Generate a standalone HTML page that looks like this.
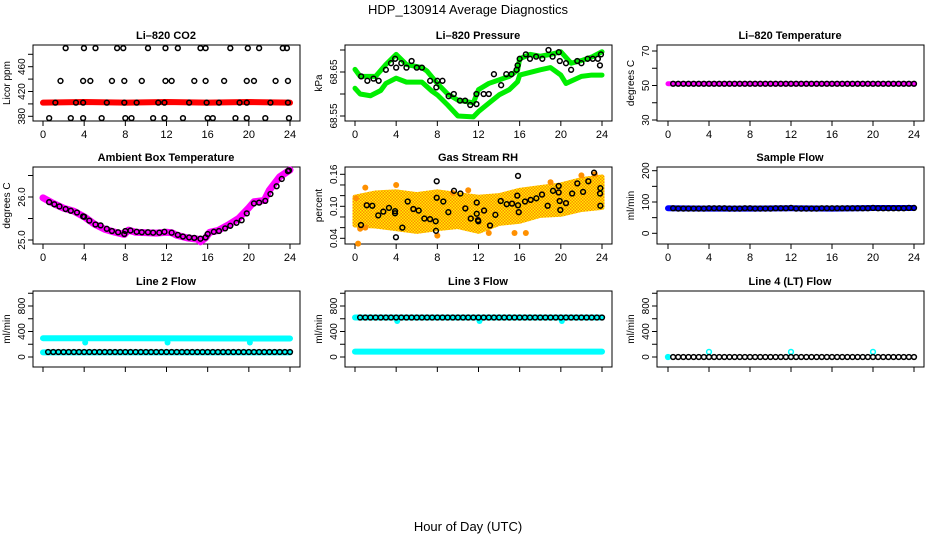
<!DOCTYPE html>
<html><head><meta charset="utf-8"><style>
html,body{margin:0;padding:0;background:#fff;}
svg{display:block;font-family:"Liberation Sans",sans-serif;}
</style></head><body>
<svg id="chart" width="936" height="540" viewBox="0 0 936 540" xmlns="http://www.w3.org/2000/svg">
<defs>
<pattern id="rhp" width="3" height="3" patternUnits="userSpaceOnUse">
<rect width="3" height="3" fill="#ff8c00"/><rect x="0" y="0" width="1.5" height="1.5" fill="#ffee00"/><rect x="1.5" y="1.5" width="1.5" height="1.5" fill="#ffee00"/>
</pattern>
</defs>
<text x="468" y="14" font-size="13" text-anchor="middle">HDP_130914  Average Diagnostics</text>
<text x="468" y="531" font-size="13" text-anchor="middle">Hour of Day (UTC)</text>
</svg>
<script>
// ---------- data ----------
const xTicks=[0,4,8,12,16,20,24];
const H48=[0.5,1,1.5,2,2.5,3,3.5,4,4.5,5,5.5,6,6.5,7,7.5,8,8.5,9,9.5,10,10.5,11,11.5,12,12.5,13,13.5,14,14.5,15,15.5,16,16.5,17,17.5,18,18.5,19,19.5,20,20.5,21,21.5,22,22.5,23,23.5,24];

// Li-820 CO2
const co2RedHours=[0,4,8,12,16,20,24];
const co2RedValues=[402,403,402,403,402,403,402];
const co2BlackHours=[2.2,3.98,5.1,7.2,7.8,10.2,11.9,13.1,15.3,15.8,18.2,19.9,21.0,23.3,23.7,
1.7,3.9,4.6,6.7,7.9,9.6,11.9,12.5,14.7,15.8,17.6,19.8,20.5,22.6,23.8,
1.2,3.2,3.9,6.2,7.9,9.1,11.2,11.8,14.2,15.9,17.1,19.1,19.8,22.1,23.8,
0.6,2.7,3.9,5.7,8.0,8.6,10.7,11.8,13.6,16.0,16.5,18.7,19.8,21.6,23.9];
const co2BlackValues=[490,490,490,490,490,490,490,490,490,490,490,490,490,490,490,
437,437,437,437,437,437,437,437,437,437,437,437,437,437,437,
402,402,402,402,402,402,402,402,402,402,402,402,402,402,402,
377,377,377,377,377,377,377,377,377,377,377,377,377,377,377];

// Li-820 Pressure
const presUpHours=[0,0.5,2,3,4,5,6.5,7,8,9,10,11.5,12,13,14,15,15.8,16,17,18,19,20,21,22,23,24];
const presUpValues=[68.656,68.64,68.64,68.667,68.69,68.667,68.66,68.652,68.624,68.60,68.586,68.58,68.61,68.624,68.632,68.64,68.654,68.68,68.69,68.686,68.69,68.696,68.67,68.676,68.684,68.696];
const presLowHours=[0,0.5,1.5,2.5,3,4,5,6.5,7.5,8,9,10,11.5,12,13,14,15,15.8,16,18,19,20,20.5,22,23,24];
const presLowValues=[68.613,68.60,68.596,68.608,68.624,68.636,68.627,68.627,68.606,68.598,68.575,68.55,68.548,68.56,68.579,68.598,68.61,68.628,68.643,68.655,68.66,68.643,68.624,68.64,68.643,68.643];
const presBlackHours=[0.6,1.2,1.8,2.3,3,3.5,3.9,4,4.5,5,5.5,6,6.5,7.3,7.9,8,8.5,9.1,9.6,10.2,10.7,11.2,11.8,11.8,12.5,13,13.5,14.2,14.7,15.2,15.7,15.8,16,16.6,17,17.6,18.2,18.8,19.2,19.8,19.9,20.5,21,21.6,22,22.6,23.1,23.6,23.8,23.9];
const presBlackValues=[68.64,68.63,68.635,68.63,68.655,68.67,68.68,68.66,68.67,68.66,68.675,68.66,68.66,68.63,68.615,68.63,68.63,68.595,68.60,68.585,68.585,68.575,68.577,68.60,68.60,68.60,68.645,68.62,68.645,68.645,68.655,68.665,68.68,68.69,68.68,68.685,68.68,68.70,68.685,68.695,68.675,68.67,68.655,68.675,68.67,68.68,68.68,68.68,68.665,68.69];

// Li-820 Temperature
const tempMagHours=[0,24];
const tempMagValues=[51,51];
const tempBlackValues=[51,51,51,51,51,51,51,51,51,51,51,51,51,51,51,51,51,51,51,51,51,51,51,51,51,51,51,51,51,51,51,51,51,51,51,51,51,51,51,51,51,51,51,51,51,51,51,51];

// Ambient Box Temperature
const ambHours=[0,1,2,3,4,5,6,7,7.9,8.3,9,10,11,12,12.5,13,14,15,15.3,15.8,16.2,17,18,19,20,20.5,21.5,22,23,24];
const ambValues=[25.98,25.85,25.74,25.67,25.54,25.37,25.25,25.18,25.13,25.23,25.18,25.17,25.16,25.18,25.17,25.11,25.05,25.02,24.96,25.05,25.18,25.22,25.35,25.50,25.75,25.89,25.92,26.16,26.47,26.63];
const ambBlackHours=[0.6,1.1,1.6,2.2,2.7,3.3,3.9,4,4.5,5.1,5.6,6.2,6.7,7.3,7.9,8,8.5,9.1,9.6,10.2,10.7,11.3,11.8,12.5,13.1,13.6,14.2,14.7,15.3,15.8,16,16.6,17.1,17.7,18.2,18.8,19.3,19.8,20.5,21,21.6,22.1,22.7,23.2,23.8,23.9];
const ambBlackValues=[25.88,25.83,25.78,25.72,25.68,25.64,25.55,25.54,25.45,25.36,25.34,25.26,25.21,25.18,25.14,25.21,25.22,25.19,25.18,25.18,25.17,25.17,25.19,25.17,25.12,25.08,25.06,25.05,25.03,25.06,25.14,25.19,25.21,25.27,25.33,25.40,25.46,25.62,25.85,25.87,25.91,26.07,26.25,26.42,26.60,26.62];

// Gas Stream RH
const rhBandHours=[0,2,4,6,8,10,12,14,16,18,20,22,24];
const rhBandLow=[0.065,0.063,0.058,0.053,0.058,0.062,0.053,0.068,0.072,0.083,0.085,0.094,0.098];
const rhBandHigh=[0.117,0.125,0.127,0.122,0.127,0.122,0.117,0.12,0.13,0.135,0.14,0.15,0.155];
const rhOutHours=[0.3,0.5,1,1,4,9.5,11,15.5,16.6,19,23.3,0.1,8,13,22];
const rhOutValues=[0.03,0.058,0.06,0.135,0.14,0.125,0.13,0.05,0.05,0.145,0.16,0.115,0.045,0.05,0.158];
const rhBlackHours=[0.58,1.14,1.68,2.26,2.75,3.3,3.89,3.89,3.98,4.6,5.12,5.67,6.19,6.74,7.29,7.84,7.87,7.94,7.94,8.58,9.07,9.62,10.24,10.72,11.25,11.83,11.83,11.95,11.98,12.54,13.12,13.64,14.16,14.74,15.26,15.77,15.84,15.84,15.91,16.52,17.07,17.62,18.17,18.72,19.24,19.79,19.79,19.89,19.95,20.5,21.1,21.6,22.16,22.67,23.23,23.81,23.84,23.84];
const rhBlackValues=[0.065,0.102,0.101,0.083,0.090,0.097,0.091,0.087,0.042,0.060,0.109,0.095,0.092,0.077,0.076,0.072,0.054,0.147,0.116,0.109,0.089,0.129,0.124,0.096,0.077,0.107,0.086,0.074,0.072,0.092,0.064,0.084,0.110,0.104,0.105,0.120,0.157,0.102,0.089,0.109,0.112,0.115,0.122,0.101,0.129,0.138,0.126,0.110,0.093,0.106,0.124,0.143,0.127,0.147,0.163,0.124,0.134,0.101];

// Sample Flow
const sfBlueHours=[0,4,8,12,16,20,24];
const sfBlueValues=[80,79,79,80,79,81,81];
const sfBlackValues=[80,79,79,79,79,79,79,80,80,80,80,79,79,79,80,80,79,79,79,79,80,80,80,81,79,79,79,79,79,80,80,80,80,80,80,80,80,80,80,81,80,80,80,80,80,80,81,81];

// Line 2 Flow
const l2CyanHours=[0,24];
const l2CyanUpper=[295,290];
const l2CyanLower=[72,72];
const l2DipHours=[4.1,12.1,20.1];
const l2DipValues=[228,228,228];
const l2BlackValues=[78,78,78,78,78,78,78,78,78,78,78,78,78,78,78,78,78,78,78,78,78,78,78,78,78,78,78,78,78,78,78,78,78,78,78,78,78,78,78,78,78,78,78,78,78,78,78,78];

// Line 3 Flow
const l3CyanHours=[0,24];
const l3CyanUpper=[620,620];
const l3CyanLower=[85,85];
const l3DipHours=[4.1,12.1,20.1];
const l3DipValues=[565,565,565];
const l3BlackValues=[620,620,620,620,620,620,620,620,620,620,620,620,620,620,620,620,620,620,620,620,620,620,620,620,620,620,620,620,620,620,620,620,620,620,620,620,620,620,620,620,620,620,620,620,620,620,620,620];

// Line 4 (LT) Flow
const l4CyanHours=[0,4,12,20];
const l4CyanValues=[0,80,80,80];
const l4BlackValues=[0,0,0,0,0,0,0,0,0,0,0,0,0,0,0,0,0,0,0,0,0,0,0,0,0,0,0,0,0,0,0,0,0,0,0,0,0,0,0,0,0,0,0,0,0,0,0,0];

// ---------- drawing ----------
const NS="http://www.w3.org/2000/svg";
const svg=document.getElementById('chart');
const cols=[{bx:33,x0:43,x24:290},{bx:345,x0:355,x24:602},{bx:657,x0:668,x24:914}];
const rows=[{top:45,bot:121},{top:167,bot:244},{top:291,bot:367}];
function mk(tag,attrs,parent){const e=document.createElementNS(NS,tag);for(const k in attrs)e.setAttribute(k,attrs[k]);(parent||svg).appendChild(e);return e;}

function makePanel(c,r,o){
  const col=cols[c],row=rows[r];
  const g=mk('g',{});
  
  
  const xs=h=>col.x0+h*(col.x24-col.x0)/24;
  const ys=v=>o.ya[1]+(v-o.ya[0])*(o.yb[1]-o.ya[1])/(o.yb[0]-o.ya[0]);
  const box=mk('rect',{x:col.bx,y:row.top,width:267,height:row.bot-row.top,fill:'none',stroke:'#000','stroke-width':1},g);
  
  
  const t=mk('text',{x:col.bx+133,y:row.top-6,'font-size':11,'font-weight':'bold','text-anchor':'middle'},g);
  t.textContent=o.title;
  
  
  const yl=mk('text',{transform:`translate(${col.bx-23},${(row.top+row.bot)/2}) rotate(-90)`,'font-size':10,'text-anchor':'middle'},g);
  yl.textContent=o.ylabel;
  
  
  o.yticks.forEach(v=>{
    const y=ys(v);
    mk('line',{x1:col.bx-5,x2:col.bx,y1:y,y2:y,stroke:'#000'},g);
  });
  o.ylabels.forEach((lab,i)=>{
    const y=ys(o.ylabelVals[i]);
    const tx=mk('text',{transform:`translate(${col.bx-8},${y}) rotate(-90)`,'font-size':10,'text-anchor':'middle'},g);
    tx.textContent=lab;
    
    
  });
  xTicks.forEach(h=>{
    const x=xs(h);
    mk('line',{x1:x,x2:x,y1:row.bot,y2:row.bot+5,stroke:'#000'},g);
    if(r<2){
      const tx=mk('text',{x:x,y:row.bot+17,'font-size':11,'text-anchor':'middle'},g);
      tx.textContent=String(h);
      
      
    }
  });
  return {g,xs,ys};
}
function band(p,hours,vals,color,w,name){
  const pts=hours.map((h,i)=>p.xs(h)+','+p.ys(vals[i])).join(' ');
  const e=mk('polyline',{points:pts,fill:'none',stroke:color,'stroke-width':w,'stroke-linecap':'round','stroke-linejoin':'round'},p.g);
  
  
}
function dots(p,hours,vals,color,rad,name){
  hours.forEach((h,i)=>{
    const e=mk('circle',{cx:p.xs(h),cy:p.ys(vals[i]),r:rad,fill:color},p.g);
    
    
  });
}
function rings(p,hours,vals,color,name){
  hours.forEach((h,i)=>{
    const e=mk('circle',{cx:p.xs(h),cy:p.ys(vals[i]),r:2.4,fill:'none',stroke:color,'stroke-width':1.5},p.g);
    
    
  });
}

// 1 CO2
let p=makePanel(0,0,{name:'co2',title:'Li\u2013820 CO2',ylabel:'Licor ppm',ya:[380,116.3],yb:[480,54.3],yticks:[380,400,420,440,460,480],ylabels:['380','420','460'],ylabelVals:[380,420,460]});
band(p,co2RedHours,co2RedValues,'#ff0000',6,'co2-red-series');
rings(p,co2BlackHours,co2BlackValues,'#000','co2-black-point');

// 2 Pressure
p=makePanel(1,0,{name:'pressure',title:'Li\u2013820 Pressure',ylabel:'kPa',ya:[68.65,72],yb:[68.55,116],yticks:[68.55,68.60,68.65,68.70],ylabels:['68.55','68.65'],ylabelVals:[68.55,68.65]});
band(p,presUpHours,presUpValues,'#00ee00',5,'pressure-green-upper');
band(p,presLowHours,presLowValues,'#00ee00',5,'pressure-green-lower');
rings(p,presBlackHours,presBlackValues,'#000','pressure-black-point');

// 3 Temperature
p=makePanel(2,0,{name:'li820-temp',title:'Li\u2013820 Temperature',ylabel:'degrees C',ya:[30,120],yb:[70,51],yticks:[30,40,50,60,70],ylabels:['30','50','70'],ylabelVals:[30,50,70]});
band(p,tempMagHours,tempMagValues,'#ff00ff',5,'temp-magenta-series');
rings(p,H48,tempBlackValues,'#000','temp-black-point');

// 4 Ambient
p=makePanel(0,1,{name:'ambient',title:'Ambient Box Temperature',ylabel:'degrees C',ya:[25.0,240],yb:[26.0,197],yticks:[25.0,25.5,26.0,26.5],ylabels:['25.0','26.0'],ylabelVals:[25.0,26.0]});
band(p,ambHours,ambValues,'#ff00ff',7,'ambient-magenta-series');
rings(p,ambBlackHours,ambBlackValues,'#000','ambient-black-point');

// 5 RH
p=makePanel(1,1,{name:'rh',title:'Gas Stream RH',ylabel:'percent',ya:[0.16,174.3],yb:[0.04,238.3],yticks:[0.04,0.06,0.08,0.10,0.12,0.14,0.16],ylabels:['0.04','0.10','0.16'],ylabelVals:[0.04,0.10,0.16]});
{
  const up=rhBandHours.map((h,i)=>p.xs(h)+','+p.ys(rhBandHigh[i]));
  const lo=rhBandHours.map((h,i)=>p.xs(h)+','+p.ys(rhBandLow[i])).reverse();
  const e=mk('polygon',{points:up.concat(lo).join(' '),fill:'url(#rhp)',stroke:'url(#rhp)','stroke-width':5,'stroke-linejoin':'round'},p.g);
  
  
}
dots(p,rhOutHours,rhOutValues,'#ff9000',3,'rh-orange-point');
rings(p,rhBlackHours,rhBlackValues,'#000','rh-black-point');

// 6 Sample flow
p=makePanel(2,1,{name:'sample-flow',title:'Sample Flow',ylabel:'ml/min',ya:[0,233.3],yb:[200,170.7],yticks:[0,50,100,150,200],ylabels:['0','100','200'],ylabelVals:[0,100,200]});
band(p,sfBlueHours,sfBlueValues,'#0000ff',6,'sample-flow-blue-series');
rings(p,H48,sfBlackValues,'#000','sample-flow-black-point');

// 7 Line 2
const flowAxis={ya:[0,357],yb:[800,306],yticks:[0,200,400,600,800,1000],ylabels:['0','400','800'],ylabelVals:[0,400,800],ylabel:'ml/min'};
p=makePanel(0,2,Object.assign({name:'line2-flow',title:'Line 2 Flow'},flowAxis));
band(p,l2CyanHours,l2CyanUpper,'#00ffff',6,'line2-cyan-upper');
band(p,l2CyanHours,l2CyanLower,'#00ffff',6,'line2-cyan-lower');
dots(p,l2DipHours,l2DipValues,'#00ffff',3,'line2-cyan-dip');
rings(p,H48,l2BlackValues,'#000','line2-black-point');

// 8 Line 3
p=makePanel(1,2,Object.assign({name:'line3-flow',title:'Line 3 Flow'},flowAxis));
band(p,l3CyanHours,l3CyanUpper,'#00ffff',6,'line3-cyan-upper');
band(p,l3CyanHours,l3CyanLower,'#00ffff',6,'line3-cyan-lower');
dots(p,l3DipHours,l3DipValues,'#00ffff',3,'line3-cyan-dip');
rings(p,H48,l3BlackValues,'#000','line3-black-point');

// 9 Line 4
p=makePanel(2,2,Object.assign({name:'line4-flow',title:'Line 4 (LT) Flow'},flowAxis));
rings(p,l4CyanHours,l4CyanValues,'#00ffff','line4-cyan-point');
dots(p,[l4CyanHours[0]],[l4CyanValues[0]],'#00ffff',3,'line4-cyan-start');
rings(p,H48,l4BlackValues,'#000','line4-black-point');
</script>
</body></html>
